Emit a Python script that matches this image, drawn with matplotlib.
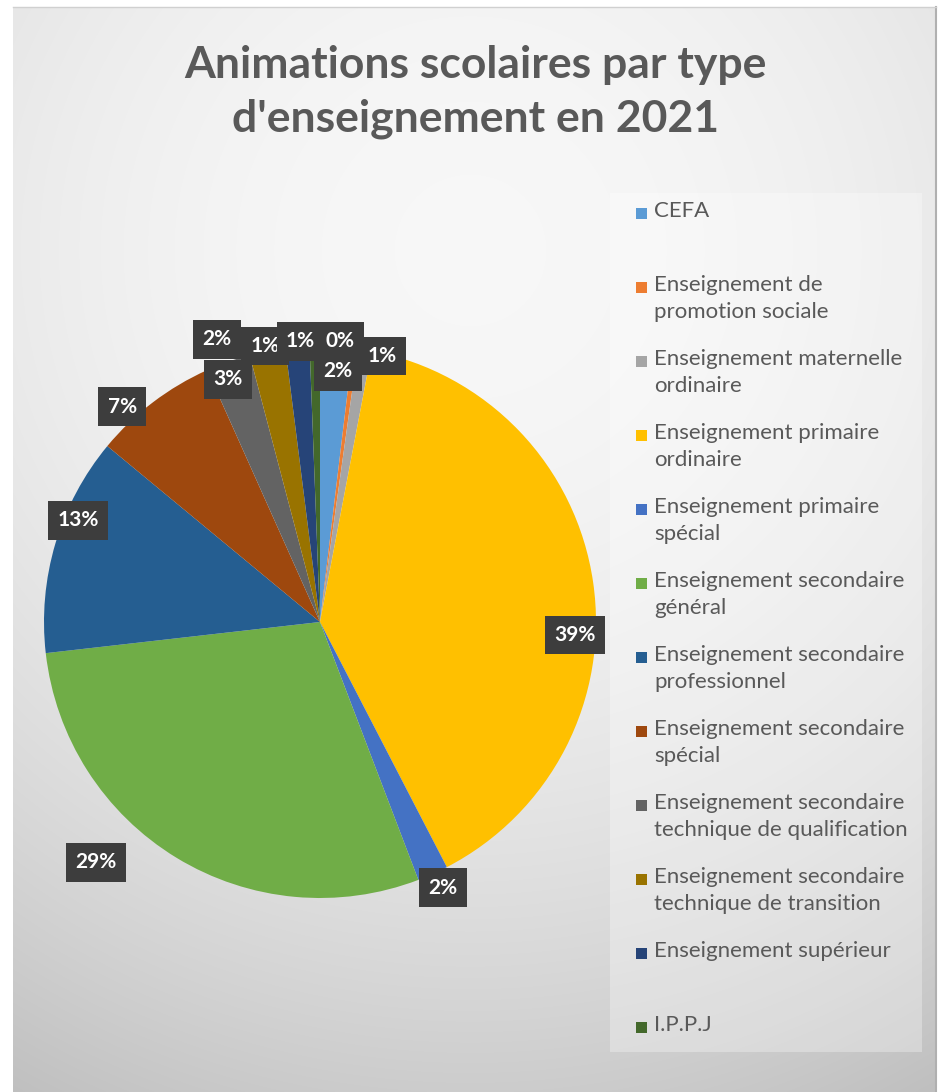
import numpy as np
import matplotlib
matplotlib.use("Agg")
import matplotlib.pyplot as plt
import matplotlib.patches as patches

categories = [
    "CEFA",
    "Enseignement de\npromotion sociale",
    "Enseignement maternelle\nordinaire",
    "Enseignement primaire\nordinaire",
    "Enseignement primaire\nspécial",
    "Enseignement secondaire\ngénéral",
    "Enseignement secondaire\nprofessionnel",
    "Enseignement secondaire\nspécial",
    "Enseignement secondaire\ntechnique de qualification",
    "Enseignement secondaire\ntechnique de transition",
    "Enseignement supérieur",
    "I.P.P.J",
]
shares = [1.9, 0.3, 0.8, 39.4, 1.8, 29.0, 12.8, 7.3, 2.6, 2.1, 1.4, 0.6]
colors = ["#5B9BD5", "#ED7D31", "#A5A5A5", "#FFC000", "#4472C4", "#70AD47",
          "#255E91", "#9E480E", "#636363", "#997300", "#264478", "#43682B"]
title = "Animations scolaires par type\nd'enseignement en 2021"

# label placement: clockwise nudge (deg) from wedge middle, radius fraction
label_nudge = [0.7, -3.3, 3.8, 11.2, -0.7, 11.7, 6.3, -5.3, -1.3, -9.1, -6.6, -2.9]
label_rad = [0.91, 1.02, 0.99, 0.925, 1.06, 1.19, 0.95, 1.06, 0.94, 1.09, 1.02, 1.02]

W, H = 940, 1092
fig = plt.figure(figsize=(W / 100, H / 100), dpi=100)
fig.patch.set_facecolor("white")

# gradient background of the chart area
bg = fig.add_axes([13 / W, 0, (936 - 13) / W, (H - 7) / H], zorder=0)
yy, xx = np.mgrid[7:H, 13:936]
d = np.hypot(xx - 470, yy - 250) / 958
v = 0.97 - 0.22 * d ** 2
bg.imshow(np.dstack([v, v, v]), aspect="auto", extent=[0, 1, 0, 1])
bg.set_xlim(0, 1)
bg.set_ylim(0, 1)
bg.axis("off")
fig.add_artist(plt.Line2D([936 / W, 936 / W], [0, 1 - 7 / H], color="#b0b0b0", lw=1.5))
fig.add_artist(plt.Line2D([13 / W, 936 / W], [1 - 7 / H, 1 - 7 / H], color="#d0d0d0", lw=1))

fig.text(475 / W, 1 - 92 / H, title, ha="center", va="center", fontsize=32,
         fontweight="bold", family="Lato", color="#595959", linespacing=1.4)

# legend panel
fig.add_artist(patches.Rectangle((610 / W, 1 - 1052 / H), 312 / W, 859 / H,
                                 transform=fig.transFigure, facecolor="white",
                                 alpha=0.3, edgecolor="none"))

# pie
cx, cy, R = 320, 622, 276
side = 2 * R * 1.4
ax = fig.add_axes([(cx - side / 2) / W, (H - cy - side / 2) / H, side / W, side / H], zorder=2)
wedges, _ = ax.pie(shares, colors=colors, startangle=90, counterclock=False,
                   radius=1, wedgeprops=dict(linewidth=0))
ax.set_xlim(-1.4, 1.4)
ax.set_ylim(-1.4, 1.4)
ax.set_aspect("equal")
ax.axis("off")

for i, w in enumerate(wedges):
    mid = (w.theta1 + w.theta2) / 2 - label_nudge[i]
    a = np.deg2rad(mid)
    x, y = label_rad[i] * np.cos(a), label_rad[i] * np.sin(a)
    pct = 100 * shares[i] / sum(shares)
    ax.text(x, y, f"{pct:.0f}%", ha="center", va="center", fontsize=15,
            fontweight="bold", family="Lato", color="white", zorder=5 + i % 3,
            bbox=dict(boxstyle="square,pad=0.45", facecolor="#3d3d3d", edgecolor="none"),
            clip_on=False)

# legend entries
y0, step = 213, 74
for i, (lab, col) in enumerate(zip(categories, colors)):
    yc = y0 + i * step
    fig.add_artist(patches.Rectangle((636 / W, 1 - (yc + 6) / H), 11 / W, 11 / H,
                                     transform=fig.transFigure, facecolor=col,
                                     edgecolor="none"))
    fig.text(654 / W, 1 - (yc - 12) / H, lab, ha="left", va="top", fontsize=16,
             family="Lato", color="#595959", linespacing=1.45)

fig.savefig("out.png", dpi=100)
